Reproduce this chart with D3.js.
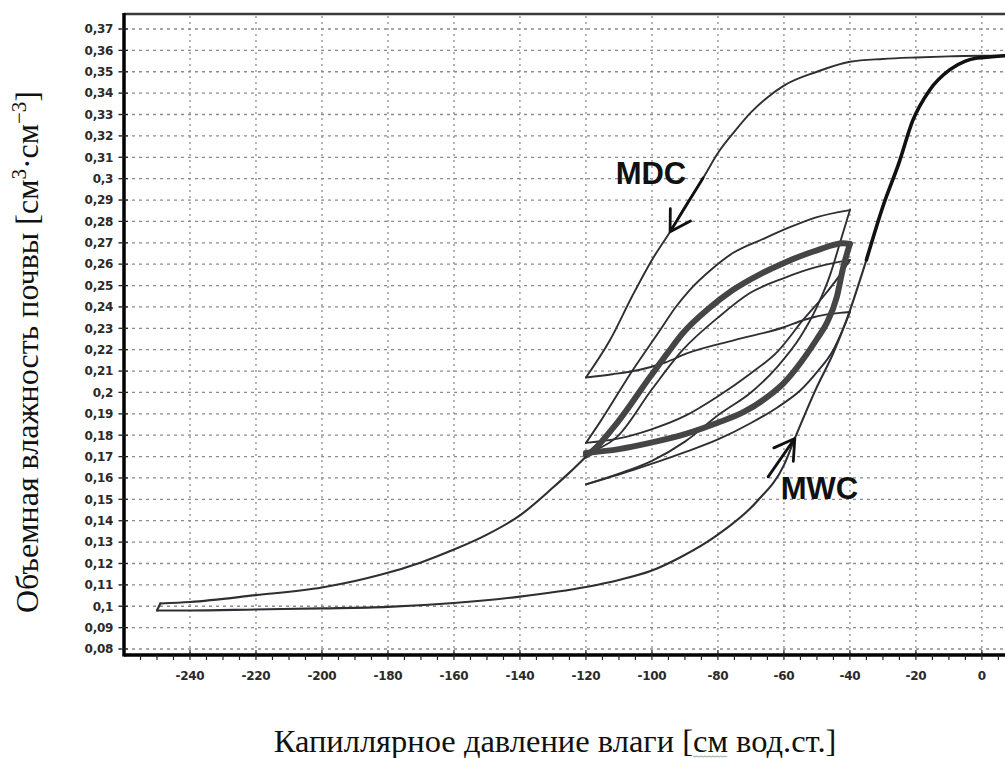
<!DOCTYPE html>
<html>
<head>
<meta charset="utf-8">
<script src="https://cdn.jsdelivr.net/npm/d3@7"></script>
<style>
  html, body { margin: 0; padding: 0; background: #ffffff; }
  svg { display: block; }
</style>
</head>
<body>
<svg id="chart" width="1005" height="758"></svg>
<script>
// Soil water retention hysteresis: pressure head h [cm] vs. volumetric water content theta.

// Main drying curve (MDC), from saturation down to h = -120
const mdcH = [7, 0, -10, -20, -30, -40, -50, -60, -65, -70, -75, -80, -84.5, -90, -94.5, -100, -106, -112.7, -120];
const mdcT = [0.3575, 0.3575, 0.3572, 0.3567, 0.356, 0.3547, 0.3500, 0.3435, 0.338, 0.331, 0.322, 0.312, 0.3003, 0.287, 0.2752, 0.262, 0.245, 0.2245, 0.207];

// Scanning cycles between h = -120 and h = -40
const w1H = [-120, -112, -104, -96, -89, -75, -60, -54, -47, -43, -40];
const w1T = [0.207, 0.2085, 0.2105, 0.214, 0.2185, 0.2245, 0.2305, 0.2339, 0.2365, 0.2372, 0.2376];

const d1H = [-40, -42, -45, -50, -55, -62, -70, -80, -90.6, -105.8, -120];
const d1T = [0.2376, 0.230, 0.220, 0.2095, 0.201, 0.193, 0.1857, 0.178, 0.1717, 0.1637, 0.157];

const w2H = [-120, -110, -100, -90, -79.4, -70, -62, -55, -50, -46, -43, -40];
const w2T = [0.157, 0.162, 0.168, 0.177, 0.190, 0.200, 0.212, 0.226, 0.240, 0.255, 0.270, 0.2853];

const d2H = [-40, -50, -58, -66, -75.5, -82, -88.5, -93, -97.6, -105.8, -115.8, -120];
const d2T = [0.2853, 0.282, 0.2774, 0.272, 0.2652, 0.2575, 0.248, 0.2395, 0.229, 0.2105, 0.186, 0.1764];

const w3H = [-120, -110, -100.6, -90, -80.3, -70, -62, -54.2, -48, -43, -40];
const w3T = [0.1764, 0.1785, 0.1825, 0.189, 0.1979, 0.209, 0.219, 0.2339, 0.245, 0.255, 0.262];

const d3H = [-40, -45, -50, -60, -70.3, -80, -90.6, -100, -110.6, -120];
const d3T = [0.262, 0.2605, 0.2587, 0.2535, 0.2465, 0.235, 0.220, 0.2015, 0.1792, 0.1717];

// Repeated (stabilised) loop
const wsH = [-120, -110, -100.6, -90, -80.3, -72, -65, -60, -55, -50, -47, -44, -42, -40];
const wsT = [0.1717, 0.1735, 0.1764, 0.1805, 0.1857, 0.191, 0.1979, 0.2045, 0.2138, 0.225, 0.2325, 0.2445, 0.2587, 0.2695];

const dsH = [-40, -42, -50, -60, -67, -75.5, -83, -90.6, -95, -100.6, -110.6, -118.8, -120];
const dsT = [0.2695, 0.2698, 0.2665, 0.2606, 0.2555, 0.2479, 0.239, 0.2278, 0.219, 0.2072, 0.1857, 0.1717, 0.1705];

// Further drying from h = -120 to h = -250
const extH = [-120, -125, -130, -140, -150, -160, -170, -182, -190, -200, -220, -240, -249];
const extT = [0.170, 0.1625, 0.1555, 0.1425, 0.1335, 0.1265, 0.1205, 0.1148, 0.1118, 0.1088, 0.1052, 0.102, 0.1013];

// Main wetting curve (MWC), from h = -250 back to saturation
const mwcH = [-250, -240, -220, -200, -180, -160, -140, -120, -110, -100, -91.5, -80, -68.2, -60, -56.7, -50, -45, -41, -35, -30, -25, -21, -15.8, -9.7, -5, -1.5, 3, 7];
const mwcT = [0.098, 0.098, 0.0985, 0.099, 0.0997, 0.1015, 0.1045, 0.109, 0.1123, 0.1167, 0.1228, 0.1335, 0.149, 0.166, 0.1785, 0.2026, 0.2185, 0.234, 0.262, 0.287, 0.308, 0.327, 0.3415, 0.351, 0.355, 0.3564, 0.357, 0.3575];

// Axis ticks
const xTicks = [-240, -220, -200, -180, -160, -140, -120, -100, -80, -60, -40, -20, 0];
const xTickLabels = ["-240", "-220", "-200", "-180", "-160", "-140", "-120", "-100", "-80", "-60", "-40", "-20", "0"];
const yTicks = [0.08, 0.09, 0.10, 0.11, 0.12, 0.13, 0.14, 0.15, 0.16, 0.17, 0.18, 0.19, 0.20, 0.21, 0.22, 0.23, 0.24, 0.25, 0.26, 0.27, 0.28, 0.29, 0.30, 0.31, 0.32, 0.33, 0.34, 0.35, 0.36, 0.37];
const yTickLabels = ["0,08", "0,09", "0,1", "0,11", "0,12", "0,13", "0,14", "0,15", "0,16", "0,17", "0,18", "0,19", "0,2", "0,21", "0,22", "0,23", "0,24", "0,25", "0,26", "0,27", "0,28", "0,29", "0,3", "0,31", "0,32", "0,33", "0,34", "0,35", "0,36", "0,37"];

// Annotations: label position, arrow start and tip on the curves
const mdcLabel = { text: "MDC", h: -111, t: 0.2975, arrowFrom: [-84.5, 0.3003], arrowTo: [-94.5, 0.2752] };
const mwcLabel = { text: "MWC", h: -61, t: 0.1502, arrowFrom: [-64.8, 0.1605], arrowTo: [-56.7, 0.1785] };

const xTitle = "Капиллярное давление влаги [см вод.ст.]";

// ---------------------------------------------------------------------------
const svg = d3.select("#chart");
const plotLeft = 124, plotRight = 1005, plotTop = 14, plotBottom = 655;

const x = d3.scaleLinear().domain([-260, 7]).range([plotLeft, plotRight]);
const y = d3.scaleLinear().domain([0.08, 0.37]).range([649, 29]);

const zip = (hs, ts) => hs.map((h, i) => [h, ts[i]]).sort((a, b) => a[0] - b[0]);
const line = d3.line().x(d => x(d[0])).y(d => y(d[1])).curve(d3.curveMonotoneX);

svg.append("defs").append("clipPath").attr("id", "plotClip")
  .append("rect").attr("x", plotLeft).attr("y", plotTop)
  .attr("width", plotRight - plotLeft).attr("height", plotBottom - plotTop);

// Grid
const grid = svg.append("g").attr("stroke", "#8c8c8c").attr("stroke-width", 1.3).attr("fill", "none");
grid.selectAll("line.h").data(yTicks).join("line")
  .attr("x1", plotLeft - 6).attr("x2", plotRight)
  .attr("y1", d => y(d)).attr("y2", d => y(d))
  .attr("stroke-dasharray", "3,4");
grid.selectAll("line.v").data(xTicks).join("line")
  .attr("x1", d => x(d)).attr("x2", d => x(d))
  .attr("y1", plotTop + 2).attr("y2", plotBottom)
  .attr("stroke-dasharray", "2,4");

// Curves
const curves = svg.append("g").attr("clip-path", "url(#plotClip)").attr("fill", "none")
  .attr("stroke-linejoin", "round").attr("stroke-linecap", "round");

const thin = "#2e2e34";
[[mdcH, mdcT], [w1H, w1T], [d1H, d1T], [w2H, w2T], [d2H, d2T], [w3H, w3T], [d3H, d3T]].forEach(([hs, ts]) => {
  curves.append("path").attr("d", line(zip(hs, ts))).attr("stroke", thin).attr("stroke-width", 1.9);
});

// Stabilised loop drawn as a heavy band
[[wsH, wsT], [dsH, dsT]].forEach(([hs, ts]) => {
  curves.append("path").attr("d", line(zip(hs, ts))).attr("stroke", "#454545").attr("stroke-width", 6);
});

// Drying to -250, the turning point, and the main wetting curve
const ext = zip(extH, extT);
const mwc = zip(mwcH, mwcT);
curves.append("path").attr("d", line(ext)).attr("stroke", thin).attr("stroke-width", 2.1);
curves.append("path").attr("d", d3.line().x(d => x(d[0])).y(d => y(d[1]))([ext[0], mwc[0]]))
  .attr("stroke", thin).attr("stroke-width", 2.1);
curves.append("path").attr("d", line(mwc)).attr("stroke", thin).attr("stroke-width", 2.1);
curves.append("path").attr("d", line(mwc.filter(d => d[0] >= -38))).attr("stroke", "#111").attr("stroke-width", 3.6);

// Axes frame
const frame = svg.append("g").attr("fill", "none");
frame.append("line").attr("x1", plotLeft).attr("x2", plotRight).attr("y1", plotTop).attr("y2", plotTop)
  .attr("stroke", "#3a3a3a").attr("stroke-width", 2.5);
frame.append("line").attr("x1", plotLeft).attr("x2", plotLeft).attr("y1", plotTop - 1).attr("y2", plotBottom + 1.5)
  .attr("stroke", "#000").attr("stroke-width", 3.5);
frame.append("line").attr("x1", plotLeft).attr("x2", plotRight).attr("y1", plotBottom).attr("y2", plotBottom)
  .attr("stroke", "#000").attr("stroke-width", 3.5);

// Tick marks
const ticks = svg.append("g").attr("stroke", "#222").attr("stroke-width", 1.2);
ticks.selectAll("line.yt").data(yTicks).join("line")
  .attr("x1", plotLeft - 5).attr("x2", plotLeft + 4).attr("y1", d => y(d)).attr("y2", d => y(d));
const minorX = d3.range(-255, 6, 5);
ticks.selectAll("line.xt").data(minorX).join("line")
  .attr("x1", d => x(d)).attr("x2", d => x(d))
  .attr("y1", d => (d % 20 === 0 ? plotBottom - 5 : plotBottom))
  .attr("y2", plotBottom + 5);

// Tick labels
const tickFont = "'DejaVu Sans', Verdana, sans-serif";
svg.append("g").selectAll("text").data(yTicks).join("text")
  .attr("x", 113).attr("y", d => y(d)).attr("dy", "0.36em")
  .attr("text-anchor", "end")
  .attr("font-family", tickFont).attr("font-weight", "bold").attr("font-size", 12)
  .attr("fill", "#2a2a2a").attr("letter-spacing", -0.3)
  .text((d, i) => yTickLabels[i]);
svg.append("g").selectAll("text").data(xTicks).join("text")
  .attr("x", d => x(d)).attr("y", 680)
  .attr("text-anchor", "middle")
  .attr("font-family", tickFont).attr("font-weight", "bold").attr("font-size", 12)
  .attr("fill", "#2a2a2a").attr("letter-spacing", -0.3)
  .text((d, i) => xTickLabels[i]);

// Curve labels with arrows
function annotate(a) {
  svg.append("text")
    .attr("x", x(a.h)).attr("y", y(a.t))
    .attr("font-family", "'Liberation Sans', Arial, sans-serif").attr("font-weight", "bold")
    .attr("font-size", 31).attr("fill", "#111")
    .text(a.text);
  const [x0, y0] = [x(a.arrowFrom[0]), y(a.arrowFrom[1])];
  const [x1, y1] = [x(a.arrowTo[0]), y(a.arrowTo[1])];
  const ang = Math.atan2(y0 - y1, x0 - x1);
  const len = 23, spread = 31 * Math.PI / 180;
  const p1 = [x1 + len * Math.cos(ang + spread), y1 + len * Math.sin(ang + spread)];
  const p2 = [x1 + len * Math.cos(ang - spread), y1 + len * Math.sin(ang - spread)];
  svg.append("path")
    .attr("d", `M${x0},${y0}L${x1},${y1}M${p1[0]},${p1[1]}L${x1},${y1}L${p2[0]},${p2[1]}`)
    .attr("fill", "none").attr("stroke", "#111").attr("stroke-width", 2.8)
    .attr("stroke-linecap", "round").attr("stroke-linejoin", "round");
}
annotate(mdcLabel);
annotate(mwcLabel);

// Axis titles
const serif = "'Liberation Serif', 'Times New Roman', serif";
const yTitle = svg.append("text")
  .attr("transform", "translate(38,352) rotate(-90)")
  .attr("text-anchor", "middle")
  .attr("font-family", serif).attr("font-size", 32).attr("fill", "#111");
yTitle.append("tspan").text("Объемная влажность почвы [см");
yTitle.append("tspan").attr("baseline-shift", "super").attr("font-size", 21).text("3");
yTitle.append("tspan").text("·см");
yTitle.append("tspan").attr("baseline-shift", "super").attr("font-size", 21).text("−3");
yTitle.append("tspan").text("]");

const xt = svg.append("text")
  .attr("x", 555).attr("y", 752)
  .attr("text-anchor", "middle")
  .attr("font-family", serif).attr("font-size", 32.5).attr("fill", "#111")
  .text(xTitle);

// Wavy proofing underline under the unit "см"
const node = xt.node();
const k = xTitle.indexOf("см");
const sx = node.getStartPositionOfChar(k).x;
const ex = node.getEndPositionOfChar(k + 1).x;
const wave = d3.range(sx, ex, 2).map((px, i) => [px, 756 + (i % 2 ? 1 : 0)]);
svg.append("path").attr("d", d3.line()(wave))
  .attr("fill", "none").attr("stroke", "#7fb07f").attr("stroke-width", 1);
</script>
</body>
</html>
